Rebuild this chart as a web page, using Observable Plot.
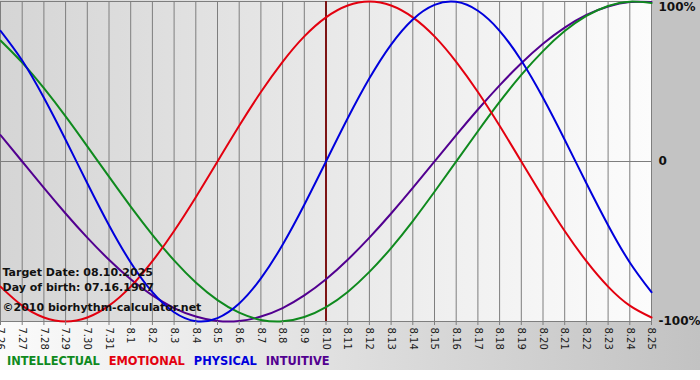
<!DOCTYPE html>
<html>
<head>
<meta charset="utf-8">
<script src="https://cdn.jsdelivr.net/npm/d3@7"></script>
<script src="https://cdn.jsdelivr.net/npm/@observablehq/plot@0.6"></script>
<style>
  html, body { margin: 0; padding: 0; background: #ffffff; }
  #chart {
    position: relative; width: 700px; height: 380px; overflow: hidden;
    font-family: "DejaVu Sans", Verdana, sans-serif;
    background:
      linear-gradient(to right, #d5d5d5, #fcfcfc) 0 0 / 651px 321px no-repeat,
      linear-gradient(#c3c3c3, #c3c3c3) 651px 0 / 49px 321px no-repeat,
      linear-gradient(to right, #fbfbfb, #c2c2c2) 0 321px / 700px 49px no-repeat,
      #ffffff;
  }
  #legend { height: 30px; line-height: 22px; padding-left: 7px; font-size: 11.4px; font-weight: bold; white-space: nowrap; }
  #legend span { margin-right: 9px; }
</style>
</head>
<body>
<div id="chart"></div>
<script>
// Days shown on the x axis (month.day)
const days = ["7.26","7.27","7.28","7.29","7.30","7.31","8.1","8.2","8.3","8.4","8.5","8.6","8.7","8.8","8.9","8.10",
  "8.11","8.12","8.13","8.14","8.15","8.16","8.17","8.18","8.19","8.20","8.21","8.22","8.23","8.24","8.25"];

// Cycle values (fraction of 100%) read per day
const intellectual = [0.756,0.618,0.458,0.282,0.095,-0.095,-0.282,-0.458,-0.618,-0.756,-0.866,-0.945,-0.990,-0.999,-0.972,-0.910,
  -0.815,-0.690,-0.541,-0.372,-0.189,0.000,0.189,0.372,0.541,0.690,0.815,0.910,0.972,0.999,0.990];
const emotional = [-0.782,-0.901,-0.975,-1.000,-0.975,-0.901,-0.782,-0.623,-0.434,-0.223,0.000,0.223,0.434,0.623,0.782,0.901,
  0.975,1.000,0.975,0.901,0.782,0.623,0.434,0.223,0.000,-0.223,-0.434,-0.623,-0.782,-0.901,-0.975];
const physical = [0.817,0.631,0.398,0.136,-0.136,-0.398,-0.631,-0.817,-0.942,-0.998,-0.979,-0.888,-0.731,-0.520,-0.270,0.000,
  0.270,0.520,0.731,0.888,0.979,0.998,0.942,0.817,0.631,0.398,0.136,-0.136,-0.398,-0.631,-0.817];
const intuitive = [0.165,0.000,-0.165,-0.325,-0.476,-0.614,-0.736,-0.837,-0.916,-0.969,-0.997,-0.997,-0.969,-0.916,-0.837,-0.736,
  -0.614,-0.476,-0.325,-0.165,0.000,0.165,0.325,0.476,0.614,0.736,0.837,0.916,0.969,0.997,0.997];

const seriesNames = ["INTELLECTUAL","EMOTIONAL","PHYSICAL","INTUITIVE"];
const seriesColors = ["#0f8a1e","#e3000f","#0000dc","#520090"];
const targetDay = "8.10";
const targetDate = "08.10.2025";
const birthDate = "07.16.1907";
const yTicks = [1, 0, -1];
const yTickLabels = ["100%", "0", "-100%"];

const dayIndex = days.map((d, i) => i);
const toRows = (arr) => days.map((d, i) => ({i, day: d, value: arr[i]}));
const drawOrder = [[intuitive, 3], [intellectual, 0], [emotional, 1], [physical, 2]];

const font = "DejaVu Sans";
const plot = Plot.plot({
  width: 700,
  height: 350,
  marginLeft: 0,
  marginRight: 49,
  marginTop: 1,
  marginBottom: 29,
  style: {background: "transparent", fontFamily: font, overflow: "visible"},
  x: {type: "linear", domain: [0, days.length - 1]},
  y: {domain: [-1, 1]},
  marks: [
    Plot.ruleX(dayIndex, {stroke: "#7e7e7e", strokeWidth: 1}),
    Plot.ruleY([-1, 0, 1], {stroke: "#7e7e7e", strokeWidth: 1}),
    Plot.ruleX([days.indexOf(targetDay)], {stroke: "#7d1414", strokeWidth: 2}),
    ...drawOrder.map(([arr, k]) => Plot.line(toRows(arr), {
      x: "i", y: "value", stroke: seriesColors[k], strokeWidth: 2, curve: "natural"
    })),
    Plot.axisX(dayIndex, {tickRotate: 90, tickSize: 4, tickPadding: 2, fontSize: 10, stroke: "#7e7e7e", fill: "#1a1a1a",
      tickFormat: i => days[i], label: null}),
    Plot.axisY([yTicks[0]], {anchor: "right", tickSize: 0, tickPadding: 7, dy: 6, fontSize: 12, fontWeight: "bold", fill: "#111",
      tickFormat: d => yTickLabels[yTicks.indexOf(d)], label: null}),
    Plot.axisY(yTicks.slice(1), {anchor: "right", tickSize: 0, tickPadding: 7, fontSize: 12, fontWeight: "bold", fill: "#111",
      tickFormat: d => yTickLabels[yTicks.indexOf(d)], label: null}),
    Plot.text([`Target Date: ${targetDate}\nDay of birth: ${birthDate}`], {
      frameAnchor: "bottom-left", textAnchor: "start", dx: 2, dy: -31, lineHeight: 1.36,
      fontSize: 11, fontWeight: "bold", fill: "#111"
    }),
    Plot.text(["©2010 biorhythm-calculator.net"], {
      frameAnchor: "bottom-left", textAnchor: "start", dx: 2, dy: -11,
      fontSize: 11, fontWeight: "bold", fill: "#111"
    })
  ]
});

const chart = document.getElementById("chart");
chart.appendChild(plot);
const legend = document.createElement("div");
legend.id = "legend";
seriesNames.forEach((name, i) => {
  const s = document.createElement("span");
  s.textContent = name;
  s.style.color = seriesColors[i];
  legend.appendChild(s);
});
chart.appendChild(legend);
</script>
</body>
</html>
